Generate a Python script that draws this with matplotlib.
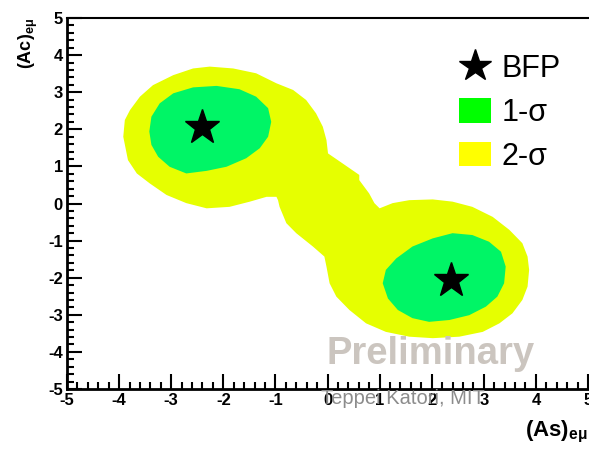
"""Allowed region plot for (As, Ac) with best-fit points"""
import matplotlib.pyplot as plt
from matplotlib.patches import Polygon, Patch
from matplotlib.lines import Line2D
from matplotlib.ticker import MultipleLocator

plt.rcParams['font.family'] = ['Liberation Sans', 'DejaVu Sans']
plt.rcParams['mathtext.default'] = 'regular'
plt.rcParams['axes.unicode_minus'] = False

# best fit points (As, Ac)
bfp_x = [-2.40, 2.37]
bfp_y = [2.07, -2.06]

# 1-sigma contours
sig1_upper_x = [-3.42, -3.38, -3.22, -2.96, -2.58, -2.13, -1.69, -1.37, -1.14, -1.08,
                -1.14, -1.30, -1.56, -1.94, -2.32, -2.71, -3.03, -3.25, -3.38]
sig1_upper_y = [1.94, 2.34, 2.70, 2.97, 3.13, 3.17, 3.08, 2.88, 2.57, 2.20,
                1.80, 1.49, 1.22, 0.99, 0.88, 0.81, 0.99, 1.26, 1.58]
sig1_lower_x = [1.06, 1.12, 1.32, 1.63, 2.02, 2.40, 2.78, 3.10, 3.33, 3.42,
                3.39, 3.26, 3.04, 2.72, 2.34, 1.95, 1.63, 1.35, 1.16]
sig1_lower_y = [-2.15, -1.79, -1.48, -1.16, -0.94, -0.80, -0.85, -1.03, -1.30, -1.70,
                -2.15, -2.51, -2.78, -3.01, -3.14, -3.19, -3.09, -2.87, -2.56]

# 2-sigma contour (one connected region)
sig2_x = [-3.92, -3.89, -3.79, -3.60, -3.35, -2.96, -2.58, -2.26, -1.81, -1.37,
          -0.98, -0.66, -0.41, -0.22, -0.09, -0.02, 0.01, 0.29, 0.61, 0.61,
          0.80, 0.90, 1.00, 1.25, 1.57, 2.02, 2.40, 2.78, 3.17, 3.49,
          3.74, 3.84, 3.87, 3.84, 3.74, 3.55, 3.30, 2.98, 2.53, 2.02,
          1.57, 1.12, 0.74, 0.42, 0.17, 0.04, -0.02, -0.06, -0.28, -0.60,
          -0.79, -0.92, -0.95, -0.98, -1.17, -1.49, -1.88, -2.32, -2.71, -3.09,
          -3.41, -3.66, -3.83]
sig2_y = [1.80, 2.25, 2.52, 2.88, 3.19, 3.46, 3.64, 3.69, 3.64, 3.51,
          3.24, 3.06, 2.79, 2.43, 2.07, 1.71, 1.35, 1.08, 0.77, 0.63,
          0.27, 0.01, -0.13, 0.01, 0.09, 0.11, 0.05, -0.09, -0.36, -0.71,
          -1.07, -1.43, -1.79, -2.24, -2.60, -2.96, -3.23, -3.46, -3.59, -3.63,
          -3.59, -3.46, -3.23, -2.87, -2.51, -2.15, -1.70, -1.43, -1.16, -0.80,
          -0.53, -0.09, 0.09, 0.18, 0.18, 0.05, -0.09, -0.13, 0.01, 0.23,
          0.54, 0.81, 1.17]

fig = plt.figure(figsize=(5.89, 4.51), dpi=100)
ax = fig.add_axes([67 / 589, 62 / 451, 521 / 589, 371 / 451])

ax.add_patch(Polygon(list(zip(sig2_x, sig2_y)), closed=True, fc='#e6ff00', ec='none'))
ax.add_patch(Polygon(list(zip(sig1_upper_x, sig1_upper_y)), closed=True, fc='#00f566', ec='none'))
ax.add_patch(Polygon(list(zip(sig1_lower_x, sig1_lower_y)), closed=True, fc='#00f566', ec='none'))
ax.plot(bfp_x, bfp_y, ls='none', marker='*', ms=26, color='black')

ax.set_xlim(-5, 5)
ax.set_ylim(-5, 5)
ax.xaxis.set_major_locator(MultipleLocator(1))
ax.yaxis.set_major_locator(MultipleLocator(1))
ax.xaxis.set_minor_locator(MultipleLocator(0.2))
ax.yaxis.set_minor_locator(MultipleLocator(0.2))
ax.tick_params(which='major', direction='in', length=11, width=1.5, labelsize=12, pad=3)
ax.tick_params(which='minor', direction='in', length=5, width=1.5)
for lab in ax.get_xticklabels() + ax.get_yticklabels():
    lab.set_fontweight('bold')
ax.spines['right'].set_visible(False)
ax.spines['left'].set_linewidth(2)
ax.spines['bottom'].set_linewidth(2)
ax.spines['top'].set_linewidth(1.5)

ax.set_xlabel(r'(As)$_{e\mu}$', loc='right', fontsize=16, fontweight='bold', labelpad=8)
ax.set_ylabel(r'(Ac)$_{e\mu}$', loc='top', fontsize=13, fontweight='bold', labelpad=6)

handles = [Line2D([], [], ls='none', marker='*', ms=24, color='black'),
           Patch(fc='#00ff00', ec='none'),
           Patch(fc='#ffff00', ec='none')]
ax.legend(handles, ['BFP', '1-σ', '2-σ'], loc='upper left', bbox_to_anchor=(0.728, 0.935),
          frameon=False, fontsize=22, handlelength=1.05, handleheight=0.85,
          handletextpad=0.35, labelspacing=0.45, borderaxespad=0)

ax.text(1.98, -4.06, 'Preliminary', fontsize=27.5, fontweight='bold', color='#cbc5bf',
        ha='center', va='center')
fig.text(403 / 589, 1 - 398 / 451, 'Teppei Katori, MIT', fontsize=14.5, color='#8c8c8c',
         ha='center', va='center')

fig.savefig('out.png')
